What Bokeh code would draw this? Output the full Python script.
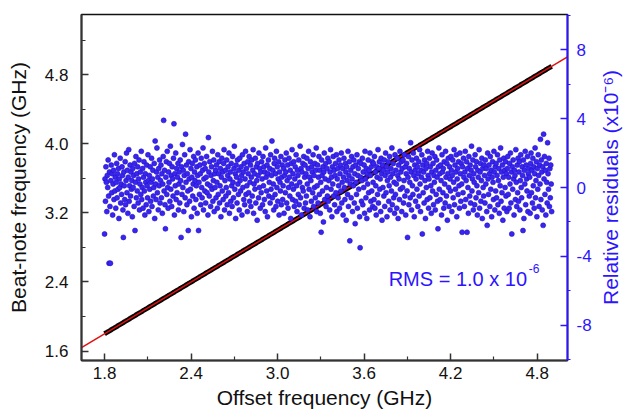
import numpy as np
from bokeh.plotting import figure
from bokeh.layouts import row
from bokeh.models import Range1d, LinearAxis, FixedTicker, PrintfTickFormatter
from bokeh.core.properties import value
from bokeh.embed import file_html
from bokeh.resources import INLINE

# ---------------- data ----------------
offset_start_ghz = 1.8
offset_stop_ghz = 4.9
# relative residuals in units of 0.1 x 1e-6 (tenths), read/
resid_tenths = [
    -27, 5, -8, 12, 3, -14, 7, 0, 16, -5, -44, 9, -11, -44, 4, 13, -3, 8, -16, 2, 10, -7, 19, -2, 6,
    -12, 3, 14, -6, 8, -1, 11, -18, 5, 0, 17, -9, 2, -4, 12, 7, -13, -29, 9, 1, -7, 15, -10, 4, 20,
    -3, 10, -15, 6, 22, -8, 1, 13, -5, 9, -1, 4, -17, 11, 0, 7, -11, 14, -25, 3, 18, -6, 8, -2, 12,
    -9, 5, 16, -13, 2, 9, -4, 21, -7, 0, 11, -12, 6, 15, -2, -16, 8, 3, -10, 13, 1, -6, 19, 4, -14,
    7, -1, 12, -8, 3, 17, -11, 5, 10, -5, 0, 14, -18, 27, 2, -7, 9, 23, -3, 6, -13, 11, 1, 16, -9,
    4, 13, -6, 8, -15, 2, 18, 39, -2, 10, -10, -24, 6, 15, -4, 21, 0, -12, 9, 3, 14, -8, 24, -1, 7,
    -11, 12, 5, -5, 17, 37, -16, 8, 1, 20, -7, 11, -3, 6, 14, -13, 2, 9, -9, 16, 4, -29, 12, -4, 25,
    0, 10, -14, 7, 19, -6, 31, 3, 13, -10, 8, -2, -25, 15, 5, -8, 22, -1, 11, -17, 6, 14, -5, 2, 18,
    -12, 9, 4, 16, -7, 1, 12, -15, 7, 20, -25, 3, -4, 13, 8, -10, 17, 0, -6, 10, 23, -13, 5, 14, -2,
    11, -9, 6, 18, -3, 2, -16, 29, 9, -5, 15, 1, -11, 7, 12, -1, 21, -8, 4, 16, -14, 8, 0, 10, -6,
    13, 3, -12, 19, -4, 8, 15, -9, 1, 11, -17, 6, 17, -2, 9, -7, 14, 22, -13, 4, 10, -5, 0, 16, -10,
    7, 12, -3, 20, -15, 5, 9, -8, 14, 1, -11, 18, 3, -6, 11, 24, -1, 8, -18, 13, 6, -9, 16, 2, -4,
    10, -13, 17, 4, -2, 12, 7, -16, 19, 0, 9, -7, 14, -10, 5, 21, -4, 11, 1, -14, 15, 8, -3, 18, -8,
    3, 13, -11, 6, 16, -5, 10, 22, -15, 2, 8, -1, 17, -9, 12, 4, -19, 14, 7, -6, 20, 0, 11, -12, 9,
    -3, 15, 5, -10, 18, 1, 12, -7, 9, -14, 23, 6, -2, 13, -17, 8, 16, -5, 3, 11, -9, 19, -1, 7, 27,
    -6, 10, 2, -13, 14, 17, -4, 8, -11, 21, 0, 12, -8, 5, 15, -16, 9, 3, -2, 18, -10, 6, 13, -7, 1,
    11, -15, 7, 16, -3, 9, 20, -9, 4, 13, -12, 0, 17, 6, -5, 10, -18, 14, 2, 22, -7, 8, -1, 15, -11,
    5, 12, -8, 19, 1, -14, 10, 7, -4, 16, -10, 3, 24, -6, 11, -16, 9, 0, 14, -2, 18, -12, 6, 13, -9,
    8, -5, 17, 2, -13, 11, 21, -1, 6, -17, 15, 4, -8, 12, 9, -3, 19, -11, 7, 0, 14, -6, 10, 23, -14,
    1, 13, -9, 6, 18, -4, 10, -15, 3, -26, 16, 7, -2, 12, -20, 9, 20, -7, 5, 14, -11, 0, 11, -5, 17,
    -8, 4, 15, -13, 9, 22, -1, 6, -17, 12, 2, 18, -5, 10, -10, 7, 14, -3, 19, -14, 5, 11, -6, 1, 16,
    -12, 8, 13, -2, 20, -9, 3, 11, -16, 6, 17, 0, -7, 14, 9, -19, 12, 4, -4, 21, -11, 7, 15, -31, 2,
    10, -6, 18, 5, -14, 12, 1, 16, -9, 8, -21, 13, 3, -4, 19, -12, 7, 11, -1, 15, -17, -35, 6, 14, -8,
    4, 17, -10, 9, 0, 13, -15, 21, 5, -6, 11, -18, 8, 2, 16, -3, 10, -13, 20, 7, -8, 12, -2, 15, -11,
    3, 14, -7, 18, -12, 9, 1, -16, 12, 6, -4, 22, -9, 11, 15, -1, 5, -14, 17, 8, -19, 13, 0, 10, -5,
    16, -11, 7, 20, -3, 12, -17, 4, 9, 15, -8, 1, 18, -13, 6, 11, -2, 23, -10, 8, 14, -6, 3, -15, 19,
    -4, 10, 2, -12, 17, 7, -18, 13, 5, -7, 21, -1, 9, 15, -14, 11, 0, 16, -9, 4, 19, -5, 12, -16, 8,
    14, -2, -29, 6, 18, -10, 11, 3, -6, 26, 9, -13, 16, 1, -4, 20, 7, -17, 13, 10, -8, 5, 17, -1, 12,
    -11, 8, 15, -5, 22, 2, -14, 10, 6, 19, -27, 13, -3, 9, -9, 16, 4, -18, 11, 0, 14, -7, 21, 7, -12,
    5, 17, -6, 12, 1, -15, 9, 20, -2, 14, -10, 7, 3, 18, -13, 10, -4, 16, 6, -8, -24, 12, 23, -1, 8,
    -7, 13, 4, -16, 19, 9, -3, 11, -12, 15, 2, -9, 21, 6, -5, 14, -19, 8, 17, 0, -11, 12, 5, -2, 18,
    10, -14, 7, 16, -6, 3, 22, -10, 13, -1, 9, 19, -17, 5, 11, -4, 15, 1, -12, 20, 8, -8, 14, 2, -26,
    12, -3, 17, 6, -11, 9, 21, -7, 4, 15, -26, 11, 0, -15, 18, 7, -5, 13, -9, 10, 24, -2, 5, 16, -13,
    8, 3, -10, 19, 12, -6, 15, 1, -16, 10, 6, -3, 22, -12, 9, 14, -8, 4, 17, -18, 11, 0, -5, 13, 7,
    -9, 16, 2, 11, -14, -22, 20, 5, -4, 13, 8, -11, 18, -1, 10, -17, 6, 15, 3, -7, 21, 9, -13, 12, -2,
    14, -6, 7, 19, -10, 4, 11, -15, 16, 1, 23, -8, 9, -3, 13, -19, 6, 17, -12, 10, 0, 15, -5, 8, -14,
    11, 18, -4, 6, -12, 14, 2, 20, -9, 9, -27, 12, -1, 16, 5, -16, 10, 7, -7, 22, 3, -11, 13, -3, 17,
    -8, 9, 15, -13, 4, 19, 0, -6, 12, 7, -25, 16, -18, 10, 2, 21, -10, 13, 5, -2, 18, -14, 8, 11, -5,
    6, -15, 14, 20, -3, 10, -9, 17, 1, 12, -12, 8, 23, -6, 4, 15, -17, 11, -1, 19, 7, -11, 13, 2, 28,
    -7, 16, 9, -13, 12, -22, 31, 5, 18, -4, 10, -16, 14, 3, -9, 26, 8, -1, 17, -11, 11, -6, 13, 2, -14,
]
fit_slope = 1.0
fit_intercept = 0.0
fit_x_ends = [1.64, 5.01]

left_ticks = [1.6, 2.4, 3.2, 4.0, 4.8]
left_minor = [2.0, 2.8, 3.6, 4.4, 5.2]
bottom_ticks = [1.8, 2.4, 3.0, 3.6, 4.2, 4.8]
bottom_minor = [2.1, 2.7, 3.3, 3.9, 4.5]
right_ticks = [-8, -4, 0, 4, 8]
right_minor = [-10, -6, -2, 2, 6, 10]

x_label = "Offset frequency (GHz)"
y_label = "Beat-note frequency (GHz)"
r_label = "Relative residuals (x10\u207b\u2076)"
rms_text = "RMS = 1.0 x 10"
rms_sup = "-6"

# ---------------- derived ----------------
resid = np.array(resid_tenths, dtype=float) / 10.0
offset = np.linspace(offset_start_ghz, offset_stop_ghz, len(resid))
fit_at_offset = fit_slope * offset + fit_intercept
beat = fit_at_offset * (1.0 + resid * 1e-6)
fit_x = np.array(fit_x_ends)
fit_y = fit_slope * fit_x + fit_intercept

BLUE = "#2d14ff"
PT_FILL = "#3826ee"
PT_LINE = "#2410c8"
DARK = "#333333"
FONT = "Liberation Sans"
RESID_RANGE = (-10.05, 10.05)

p = figure(frame_width=486, frame_height=346,
           x_range=Range1d(1.64, 5.01), y_range=Range1d(1.49, 5.5),
           output_backend="svg", toolbar_location=None,
           min_border_left=81, min_border_top=14, min_border_right=29, min_border_bottom=53)
p.extra_y_ranges = {"resid": Range1d(*RESID_RANGE)}
p.grid.visible = False
p.outline_line_color = "#111111"
p.outline_line_width = 1.5
p.background_fill_color = "white"
p.border_fill_color = "white"

def style_axis(ax, color, text_color):
    ax.axis_line_color = color
    ax.axis_line_width = 2
    ax.major_tick_line_color = color
    ax.minor_tick_line_color = color
    ax.major_tick_line_width = 1.5
    ax.minor_tick_line_width = 1.2
    ax.major_tick_in = 7
    ax.major_tick_out = 0
    ax.minor_tick_in = 4
    ax.minor_tick_out = 0
    ax.major_label_text_font = FONT
    ax.major_label_text_font_size = "17px"
    ax.major_label_text_color = text_color
    ax.axis_label_text_font = FONT
    ax.axis_label_text_font_size = "21px"
    ax.axis_label_text_font_style = "normal"
    ax.axis_label_text_color = text_color

xa = p.xaxis[0]
xa.ticker = FixedTicker(ticks=bottom_ticks, minor_ticks=bottom_minor)
xa.formatter = PrintfTickFormatter(format="%.1f")
style_axis(xa, DARK, "#111111")
xa.axis_label = x_label
xa.major_label_standoff = 6
xa.axis_label_standoff = 4

ya = p.yaxis[0]
ya.ticker = FixedTicker(ticks=left_ticks, minor_ticks=left_minor)
ya.formatter = PrintfTickFormatter(format="%.1f")
style_axis(ya, DARK, "#111111")
ya.axis_label = y_label
ya.major_label_standoff = 13
ya.axis_label_standoff = 12

ra = LinearAxis(y_range_name="resid")
ra.ticker = FixedTicker(ticks=right_ticks, minor_ticks=right_minor)
ra.formatter = PrintfTickFormatter(format="%d")
style_axis(ra, BLUE, BLUE)
ra.minor_tick_in = 0
ra.minor_tick_out = 3
ra.major_label_standoff = 6
p.add_layout(ra, "right")

p.line(offset, beat, line_color="black", line_width=5)
p.line(fit_x, fit_y, line_color="#e01010", line_width=1.5)
p.scatter(offset, resid, y_range_name="resid", size=5, fill_color=PT_FILL,
          line_color=PT_LINE, line_width=0.6)

p.text(x=[3.77], y=[-5.33], text=[rms_text], y_range_name="resid",
       text_font=value(FONT), text_font_size="20px", text_color=BLUE,
       text_baseline="alphabetic", text_align="left")
p.text(x=[4.742], y=[-4.73], text=[rms_sup], y_range_name="resid",
       text_font=value(FONT), text_font_size="12px", text_color=BLUE,
       text_baseline="alphabetic", text_align="left")

# narrow strip on the right carrying the right-axis title (reads bottom to top)
s = figure(frame_width=28, frame_height=346, x_range=Range1d(0, 1),
           y_range=Range1d(*RESID_RANGE), output_backend="svg", toolbar_location=None,
           x_axis_location=None, y_axis_location=None,
           min_border_left=0, min_border_right=0, min_border_top=14, min_border_bottom=53)
s.grid.visible = False
s.outline_line_color = None
s.text(x=[0.5], y=[0.0], text=[r_label], angle=np.pi / 2,
       text_font=value(FONT), text_font_size="21px", text_color=BLUE,
       text_align="center", text_baseline="middle")

layout = row(p, s)
open("out.html", "w").write(file_html(layout, INLINE))
